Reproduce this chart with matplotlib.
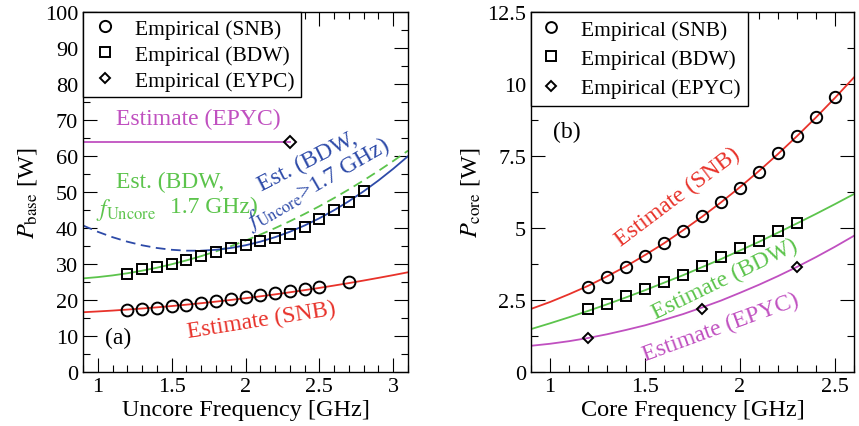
import matplotlib
matplotlib.use("Agg")
import matplotlib.pyplot as plt
import numpy as np
from matplotlib.ticker import MultipleLocator, FormatStrFormatter

plt.rcParams["font.family"] = ["Liberation Serif", "DejaVu Serif"]
plt.rcParams["mathtext.fontset"] = "stix"
plt.rcParams["lines.scale_dashes"] = False

RED = "#e8322a"
GREEN = "#5cc44c"
BLUE = "#2d4aa8"
MAGENTA = "#c050c0"

# ---- (a) base power vs uncore frequency ----
unc_snb_f = [1.2, 1.3, 1.4, 1.5, 1.6, 1.7, 1.8, 1.9, 2.0, 2.1, 2.2, 2.3, 2.4, 2.5, 2.7]
unc_snb_p = [17.3, 17.6, 17.9, 18.3, 18.7, 19.1, 19.6, 20.2, 20.8, 21.3, 21.9, 22.5, 23.0, 23.6, 24.9]
unc_bdw_f = [1.2, 1.3, 1.4, 1.5, 1.6, 1.7, 1.8, 1.9, 2.0, 2.1, 2.2, 2.3, 2.4, 2.5, 2.6, 2.7, 2.8]
unc_bdw_p = [27.3, 28.6, 29.3, 30.0, 31.2, 32.3, 33.4, 34.4, 35.2, 36.3, 37.3, 38.4, 40.2, 42.4, 44.9, 47.3, 50.4]
unc_epyc_f = [2.3]
unc_epyc_p = [64.0]

est_unc_f = [0.9, 1.0, 1.1, 1.2, 1.3, 1.4, 1.5, 1.6, 1.7, 1.8, 1.9, 2.0,
             2.1, 2.2, 2.3, 2.4, 2.5, 2.6, 2.7, 2.8, 2.9, 3.0, 3.1]
est_unc_snb = [16.6, 16.82, 17.06, 17.34, 17.64, 17.96, 18.32, 18.70, 19.11, 19.55, 20.01, 20.50,
               21.02, 21.56, 22.14, 22.74, 23.36, 24.02, 24.70, 25.41, 26.15, 26.91, 27.70]
est_unc_bdw17 = [26.0, 26.36, 26.83, 27.42, 28.14, 28.97, 29.93, 31.00, 32.19, 33.51, 34.94, 36.49,
                 38.17, 39.96, 41.87, 43.90, 46.05, 48.33, 50.72, 53.23, 55.86, 58.61, 61.48]
est_unc_bdw_hi = [40.7, 38.95, 37.45, 36.2, 35.2, 34.45, 33.95, 33.7, 33.7, 33.95, 34.45, 35.2,
                  36.2, 37.45, 38.95, 40.7, 42.7, 44.95, 47.45, 50.2, 53.2, 56.45, 59.95]
est_unc_epyc_f = [0.9, 2.3]
est_unc_epyc = [64.0, 64.0]
split_f = 1.7

# ---- (b) core power vs core frequency ----
core_snb_f = [1.2, 1.3, 1.4, 1.5, 1.6, 1.7, 1.8, 1.9, 2.0, 2.1, 2.2, 2.3, 2.4, 2.5]
core_snb_p = [2.94, 3.29, 3.64, 4.04, 4.47, 4.91, 5.41, 5.91, 6.39, 6.96, 7.59, 8.20, 8.86, 9.54]
core_bdw_f = [1.2, 1.3, 1.4, 1.5, 1.6, 1.7, 1.8, 1.9, 2.0, 2.1, 2.2, 2.3]
core_bdw_p = [2.19, 2.36, 2.63, 2.88, 3.14, 3.37, 3.69, 4.00, 4.31, 4.56, 4.91, 5.17]
core_epyc_f = [1.2, 1.8, 2.3]
core_epyc_p = [1.18, 2.19, 3.63]

est_core_f = [0.9, 1.0, 1.1, 1.2, 1.3, 1.4, 1.5, 1.6, 1.7, 1.8, 1.9, 2.0, 2.1, 2.2, 2.3, 2.4, 2.5, 2.6]
est_core_snb = [2.19, 2.43, 2.70, 2.99, 3.32, 3.67, 4.06, 4.47, 4.92, 5.39, 5.89, 6.42,
                6.98, 7.57, 8.19, 8.84, 9.52, 10.23]
est_core_bdw = [1.49, 1.69, 1.90, 2.12, 2.35, 2.59, 2.84, 3.10, 3.36, 3.64, 3.92, 4.22,
                4.52, 4.84, 5.16, 5.49, 5.83, 6.18]
est_core_epyc = [0.91, 0.98, 1.07, 1.18, 1.31, 1.46, 1.62, 1.81, 2.01, 2.24, 2.48, 2.75,
                 3.03, 3.33, 3.65, 3.99, 4.35, 4.73]

TICK_FS = 16
LABEL_FS = 17.5
LEG_FS = 15.5
ANN_FS = 17

fig = plt.figure(figsize=(8.59, 4.27), dpi=100)
ax1 = fig.add_axes([83 / 859, 1 - 373 / 427, 325 / 859, 360 / 427])
ax2 = fig.add_axes([531 / 859, 1 - 373 / 427, 323 / 859, 360 / 427])

mk = dict(linestyle="none", markerfacecolor="none", markeredgecolor="black", markeredgewidth=1.4)


def style_axes(ax):
    ax.tick_params(which="both", direction="in", top=True, right=True, labelsize=TICK_FS, width=0.8)
    ax.tick_params(which="major", length=10)
    ax.tick_params(which="minor", length=5)
    for s in ax.spines.values():
        s.set_linewidth(1.0)


# panel (a)
f = np.array(est_unc_f)
lo = f <= split_f + 1e-9
hi = f >= split_f - 1e-9
g = np.array(est_unc_bdw17)
b = np.array(est_unc_bdw_hi)
ax1.plot(est_unc_f, est_unc_snb, color=RED, lw=1.3)
ax1.plot(f[lo], g[lo], color=GREEN, lw=1.3)
ax1.plot(f[hi], g[hi], color=GREEN, lw=1.3, dashes=(7, 4))
ax1.plot(f[lo], b[lo], color=BLUE, lw=1.3, dashes=(7, 4))
ax1.plot(f[hi], b[hi], color=BLUE, lw=1.3)
ax1.plot(est_unc_epyc_f, est_unc_epyc, color=MAGENTA, lw=1.3)

ax1.plot(unc_snb_f, unc_snb_p, marker="o", markersize=8.5, label="Empirical (SNB)", **mk)
ax1.plot(unc_bdw_f, unc_bdw_p, marker="s", markersize=7.8, label="Empirical (BDW)", **mk)
ax1.plot(unc_epyc_f, unc_epyc_p, marker="D", markersize=5.8, label="Empirical (EYPC)", **mk)

ax1.set_xlim(0.9, 3.1)
ax1.set_ylim(0, 100)
ax1.xaxis.set_major_locator(MultipleLocator(0.5))
ax1.xaxis.set_minor_locator(MultipleLocator(0.1))
ax1.xaxis.set_major_formatter(FormatStrFormatter("%g"))
ax1.yaxis.set_major_locator(MultipleLocator(10))
ax1.yaxis.set_minor_locator(MultipleLocator(5))
style_axes(ax1)
ax1.set_xlabel("Uncore Frequency [GHz]", fontsize=LABEL_FS, labelpad=2)
ax1.set_ylabel(r"$P_{\mathrm{base}}$ [W]", fontsize=LABEL_FS, labelpad=4)

leg1 = ax1.legend(loc="upper left", fontsize=LEG_FS, borderaxespad=0, borderpad=0.3,
                  labelspacing=0.28, handlelength=1.4, handletextpad=0.7, markerscale=0.95,
                  fancybox=False, framealpha=1, edgecolor="black")
leg1.get_frame().set_linewidth(1.0)

ax1.text(1.12, 70.3, "Estimate (EPYC)", color=MAGENTA, fontsize=ANN_FS, va="center", ha="left")
ax1.text(1.12, 52.8, "Est. (BDW,", color=GREEN, fontsize=ANN_FS, va="center", ha="left")
ax1.text(0.985, 45.3, r"$f_{\mathrm{Uncore}}$", color=GREEN, fontsize=ANN_FS, va="center", ha="left")
ax1.text(1.49, 46.1, "1.7 GHz)", color=GREEN, fontsize=ANN_FS, va="center", ha="left")
ax1.text(2.42, 58.6, "Est. (BDW,", color=BLUE, fontsize=ANN_FS, rotation=27,
         rotation_mode="anchor", ha="center", va="center")
ax1.text(2.49, 52.3, r"$f_{\mathrm{Uncore}}$>1.7 GHz)", color=BLUE, fontsize=ANN_FS, rotation=30,
         rotation_mode="anchor", ha="center", va="center")
ax1.text(2.11, 14.4, "Estimate (SNB)", color=RED, fontsize=ANN_FS, rotation=9,
         rotation_mode="anchor", ha="center", va="center")
ax1.text(1.14, 9.7, "(a)", fontsize=ANN_FS, ha="center", va="center")

# panel (b)
ax2.plot(est_core_f, est_core_snb, color=RED, lw=1.3)
ax2.plot(est_core_f, est_core_bdw, color=GREEN, lw=1.3)
ax2.plot(est_core_f, est_core_epyc, color=MAGENTA, lw=1.3)

ax2.plot(core_snb_f, core_snb_p, marker="o", markersize=8.2, label="Empirical (SNB)", **mk)
ax2.plot(core_bdw_f, core_bdw_p, marker="s", markersize=7.6, label="Empirical (BDW)", **mk)
ax2.plot(core_epyc_f, core_epyc_p, marker="D", markersize=5.6, label="Empirical (EPYC)", **mk)

ax2.set_xlim(0.9, 2.6)
ax2.set_ylim(0, 12.5)
ax2.xaxis.set_major_locator(MultipleLocator(0.5))
ax2.xaxis.set_minor_locator(MultipleLocator(0.1))
ax2.xaxis.set_major_formatter(FormatStrFormatter("%g"))
ax2.yaxis.set_major_locator(MultipleLocator(2.5))
ax2.yaxis.set_minor_locator(MultipleLocator(1.25))
ax2.yaxis.set_major_formatter(FormatStrFormatter("%g"))
style_axes(ax2)
ax2.set_xlabel("Core Frequency [GHz]", fontsize=LABEL_FS, labelpad=2)
ax2.set_ylabel(r"$P_{\mathrm{core}}$ [W]", fontsize=LABEL_FS, labelpad=4)

leg2 = ax2.legend(loc="upper left", fontsize=LEG_FS, borderaxespad=0, borderpad=0.35,
                  labelspacing=0.43, handlelength=1.2, handletextpad=0.75, markerscale=0.95,
                  fancybox=False, framealpha=1, edgecolor="black")
leg2.get_frame().set_linewidth(1.0)

ax2.text(1.088, 8.36, "(b)", fontsize=ANN_FS, ha="center", va="center")
ax2.text(1.674, 6.11, "Estimate (SNB)", color=RED, fontsize=ANN_FS, rotation=37,
         rotation_mode="anchor", ha="center", va="center")
ax2.text(1.92, 3.23, "Estimate (BDW)", color=GREEN, fontsize=ANN_FS, rotation=26,
         rotation_mode="anchor", ha="center", va="center")
ax2.text(1.90, 1.58, "Estimate (EPYC)", color=MAGENTA, fontsize=ANN_FS, rotation=20,
         rotation_mode="anchor", ha="center", va="center")

fig.savefig("out.png", dpi=100)
